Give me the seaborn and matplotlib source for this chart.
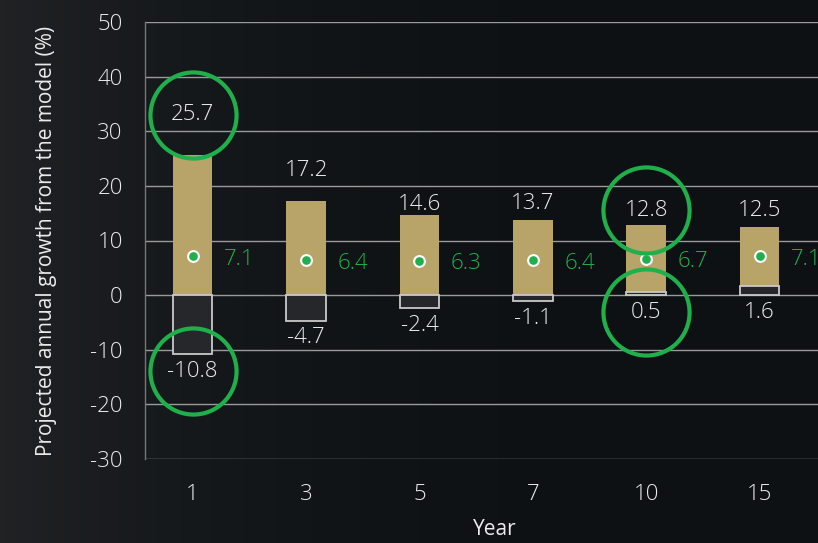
import matplotlib
matplotlib.use("Agg")
import matplotlib.pyplot as plt
import matplotlib.transforms as mtransforms
import numpy as np
import pandas as pd
import seaborn as sns

# Data
years = ["1", "3", "5", "7", "10", "15"]
max_growth = [25.7, 17.2, 14.6, 13.7, 12.8, 12.5]
min_growth = [-10.8, -4.7, -2.4, -1.1, 0.5, 1.6]
mean_growth = [7.1, 6.4, 6.3, 6.4, 6.7, 7.1]

# label offsets above the top of each bar (pixels)
top_offsets = [40, 31, 11, 17, 15, 16]
circled_top = ["1", "10"]
circled_bottom = ["1", "10"]

df = pd.DataFrame({"year": years, "max": max_growth, "min": min_growth, "mean": mean_growth})

bg = "#0d1114"
gold = "#b8a468"
dark_bar = "#25272b"
green = "#1fb04b"
text_col = "#ececec"
grid_col = "#9a9a9a"

sns.set_theme(style="dark")
plt.rcParams["font.family"] = ["Open Sans", "DejaVu Sans"]
plt.rcParams["font.weight"] = 300
plt.rcParams["axes.unicode_minus"] = False

fig = plt.figure(figsize=(8.18, 5.43), dpi=100)
fig.patch.set_facecolor(bg)
# soft lighter haze on the left side of the background
bg_ax = fig.add_axes([0, 0, 1, 1], zorder=-10)
bg_ax.imshow(np.linspace(1, 0, 256).reshape(1, -1) ** 3, aspect="auto",
             cmap=matplotlib.colors.LinearSegmentedColormap.from_list("bg", [bg, "#202224"]),
             extent=[0, 1, 0, 1])
bg_ax.axis("off")

ax = fig.add_axes([145 / 818, (543 - 459) / 543, 700 / 818, 437 / 543])
ax.set_facecolor("none")

sns.barplot(data=df, x="year", y="max", color=gold, width=0.35, saturation=1,
            linewidth=0, ax=ax, zorder=3)
sns.barplot(data=df, x="year", y="min", color=dark_bar, width=0.35, saturation=1,
            edgecolor="#c9c9c9", linewidth=1.3, ax=ax, zorder=4)
sns.scatterplot(data=df, x="year", y="mean", color=green, edgecolor="white",
                linewidth=1.5, s=60, ax=ax, zorder=5)

fs = 16
px = 72 / fig.dpi
for i, row in df.iterrows():
    up = mtransforms.offset_copy(ax.transData, fig=fig, y=top_offsets[i] * px, units="points")
    ax.text(i, row["max"], f"{row['max']:.1f}", transform=up, ha="center", va="center",
            color=text_col, fontsize=fs, zorder=6)
    low = min(row["min"], 0)
    down = mtransforms.offset_copy(ax.transData, fig=fig, y=-17 * px, units="points")
    ax.text(i, low, f"{row['min']:.1f}", transform=down, ha="center", va="center",
            color=text_col, fontsize=fs, zorder=6)
    right = mtransforms.offset_copy(ax.transData, fig=fig, x=47 * px, y=-3 * px, units="points")
    ax.text(i, row["mean"], f"{row['mean']:.1f}", transform=right, ha="center", va="center",
            color=green, fontsize=fs, zorder=6)
    if row["year"] in circled_top:
        ax.plot(i, row["max"], transform=up, marker="o", ms=62, mfc="none",
                mec=green, mew=3, zorder=7, clip_on=False)
    if row["year"] in circled_bottom:
        ax.plot(i, low, transform=down, marker="o", ms=62, mfc="none",
                mec=green, mew=3, zorder=7, clip_on=False)

ax.set_ylim(-30, 50)
ax.set_yticks(range(-30, 51, 10))
ax.set_xlim(-0.42, -0.42 + 700 / 113.4)
ax.grid(axis="y", color=grid_col, linewidth=1, zorder=0)
ax.grid(axis="x", visible=False)
for side in ["top", "right", "bottom"]:
    ax.spines[side].set_visible(False)
ax.spines["left"].set_color("#777777")
ax.spines["left"].set_linewidth(1)

ax.tick_params(axis="y", colors=text_col, labelsize=fs, pad=16, length=0)
ax.tick_params(axis="x", colors=text_col, labelsize=fs, pad=18, length=0)
ax.set_xlabel("Year", color=text_col, fontsize=fs - 1, labelpad=10)
ax.set_ylabel("Projected annual growth from the model (%)", color=text_col, fontsize=fs - 1,
              labelpad=24)

fig.savefig("out.png", dpi=100, facecolor=bg)
